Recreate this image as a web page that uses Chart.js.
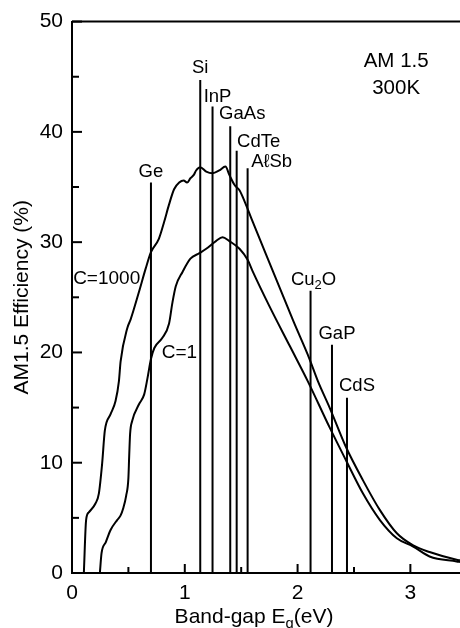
<!DOCTYPE html>
<html lang="en">
<head>
<meta charset="UTF-8">
<title>AM1.5 efficiency vs band gap</title>
<script src="https://cdn.jsdelivr.net/npm/chart.js"></script>
<style>
  html, body { margin: 0; padding: 0; background: #fff; }
</style>
</head>
<body>
<canvas id="chart" width="460" height="628"></canvas>
<script>
// efficiency curve, concentration C=1000
const conc1000X = [0.105, 0.125, 0.149, 0.208, 0.238, 0.267, 0.291, 0.342, 0.386, 0.416, 0.431, 0.49, 0.52, 0.594, 0.653, 0.70, 0.77, 0.816, 0.86, 0.905, 0.95, 0.99, 1.02, 1.05, 1.08, 1.10, 1.137, 1.19, 1.246, 1.306, 1.36, 1.395, 1.44, 1.485, 1.53, 1.6, 1.78, 1.96, 2.106, 2.18, 2.284, 2.43, 2.58, 2.73, 2.88, 3.025, 3.17, 3.41, 3.44];
const conc1000Y = [0, 4.8, 5.5, 6.3, 7.2, 9.9, 12.9, 14.4, 15.6, 17.4, 19.2, 22.2, 23.0, 25.5, 27.6, 29.1, 30.3, 31.8, 33.4, 34.8, 35.4, 35.6, 35.4, 35.8, 36.1, 36.5, 36.8, 36.4, 36.25, 36.5, 36.85, 36.1, 35.2, 34.7, 33.7, 31.9, 27.4, 22.9, 19.4, 17.4, 15.0, 11.4, 8.4, 5.7, 3.6, 2.5, 1.9, 1.2, 1.15];

// efficiency curve, concentration C=1
const conc1X = [0.247, 0.262, 0.30, 0.342, 0.40, 0.43, 0.455, 0.48, 0.50, 0.507, 0.515, 0.534, 0.594, 0.64, 0.668, 0.70, 0.73, 0.80, 0.86, 0.89, 0.92, 0.98, 1.05, 1.13, 1.19, 1.276, 1.335, 1.395, 1.485, 1.557, 1.6, 1.75, 1.93, 2.09, 2.284, 2.43, 2.58, 2.73, 2.88, 3.025, 3.17, 3.41, 3.44];
const conc1Y = [0, 1.8, 2.8, 3.9, 4.8, 5.2, 5.9, 7.0, 8.6, 10.6, 12.6, 13.8, 15.3, 16.2, 17.6, 19.4, 20.4, 21.3, 22.6, 24.5, 26.0, 27.3, 28.5, 29.0, 29.4, 30.1, 30.45, 30.1, 29.4, 28.4, 27.4, 24.2, 20.6, 17.4, 13.2, 10.2, 7.2, 4.8, 3.15, 2.4, 1.5, 1.05, 1.0];

// semiconductor band gaps (eV) and marker heights (%)
const materials = ['Ge', 'Si', 'InP', 'GaAs', 'CdTe', 'A\u2113Sb', 'Cu2O', 'GaP', 'CdS'];
const bandGaps = [0.70, 1.137, 1.246, 1.403, 1.46, 1.557, 2.115, 2.305, 2.438];
const lineTops = [35.4, 44.7, 42.3, 40.5, 38.3, 36.7, 25.6, 20.7, 15.9];

const yTickLabels = [0, 10, 20, 30, 40, 50];
const xTickLabels = [0, 1, 2, 3];

const FONT = '"Liberation Sans", Arial, Helvetica, sans-serif';

// label placement for the material names (pixels from line top)
const labelDx = [0, 0, 5, 12, 22, 24, 3, 5, 10];
const labelGap = [12, 13, 11, 13, 10, 7, 12, 12, 13];

function richParts(text) {
    // digits after letters become subscripts (Cu2O)
    let parts = [];
    let m = text.match(/^([A-Za-z]+)(\d)([A-Za-z]*)$/);
    if (m) {
        parts.push({ t: m[1] }, { t: m[2], sub: true }, { t: m[3] });
    } else {
        parts.push({ t: text });
    }
    return parts;
}

function drawRich(ctx, parts, x, y, size, align) {
    let widths = parts.map(p => {
        ctx.font = (p.sub ? size * 0.7 : size) + 'px ' + FONT;
        return ctx.measureText(p.t).width;
    });
    let total = widths.reduce((a, b) => a + b, 0);
    let cx = align === 'center' ? x - total / 2 : (align === 'right' ? x - total : x);
    ctx.textAlign = 'left';
    ctx.textBaseline = 'alphabetic';
    parts.forEach((p, i) => {
        ctx.font = (p.sub ? size * 0.7 : size) + 'px ' + FONT;
        ctx.fillText(p.t, cx, p.sub ? y + size * 0.22 : y);
        cx += widths[i];
    });
}

const decor = {
    id: 'decor',
    afterDraw(chart) {
        let ctx = chart.ctx;
        let xs = chart.scales.x, ys = chart.scales.y;
        let area = chart.chartArea;
        ctx.save();
        ctx.strokeStyle = '#000';
        ctx.fillStyle = '#000';

        // top frame line
        ctx.lineWidth = 2;
        ctx.beginPath();
        ctx.moveTo(area.left, area.top);
        ctx.lineTo(area.right, area.top);
        ctx.stroke();

        // inward ticks
        ctx.lineWidth = 2;
        ys.ticks.forEach(t => {
            if (t.value % 5 !== 0) return;
            let py = ys.getPixelForValue(t.value);
            let len = t.value % 10 === 0 ? 10 : 7;
            ctx.beginPath();
            ctx.moveTo(area.left, py);
            ctx.lineTo(area.left + len, py);
            ctx.stroke();
        });
        xs.ticks.forEach(t => {
            if (Math.abs(t.value * 2 - Math.round(t.value * 2)) > 1e-6) return;
            let px = xs.getPixelForValue(t.value);
            let len = Number.isInteger(t.value) ? 9 : 6;
            ctx.beginPath();
            ctx.moveTo(px, area.bottom);
            ctx.lineTo(px, area.bottom - len);
            ctx.stroke();
        });

        // material names above their lines
        materials.forEach((m, i) => {
            let px = xs.getPixelForValue(bandGaps[i]) + labelDx[i];
            let py = ys.getPixelForValue(lineTops[i]) - labelGap[i] + 6;
            drawRich(ctx, richParts(m), px, py, 18.5, 'center');
        });

        // curve labels
        drawRich(ctx, [{ t: 'C=1000' }], xs.getPixelForValue(0.01), ys.getPixelForValue(26.8) + 7, 19, 'left');
        drawRich(ctx, [{ t: 'C=1' }], xs.getPixelForValue(0.796), ys.getPixelForValue(20.1) + 7, 19, 'left');

        // conditions
        drawRich(ctx, [{ t: 'AM 1.5' }], xs.getPixelForValue(2.874), ys.getPixelForValue(46.5) + 7, 20.5, 'center');
        drawRich(ctx, [{ t: '300K' }], xs.getPixelForValue(2.874), ys.getPixelForValue(44.1) + 7, 20.5, 'center');

        // x axis title with subscript
        drawRich(ctx, [{ t: 'Band-gap E' }, { t: 'g', sub: true }, { t: '(eV)' }], 254, 623, 21, 'center');
        ctx.restore();
    }
};

let datasets = [
    {
        label: 'C=1000',
        data: conc1000X.map((x, i) => ({ x: x, y: conc1000Y[i] })),
        borderColor: '#000', borderWidth: 2, pointRadius: 0,
        cubicInterpolationMode: 'monotone'
    },
    {
        label: 'C=1',
        data: conc1X.map((x, i) => ({ x: x, y: conc1Y[i] })),
        borderColor: '#000', borderWidth: 2, pointRadius: 0,
        cubicInterpolationMode: 'monotone'
    }
];
materials.forEach((m, i) => {
    datasets.push({
        label: m,
        data: [{ x: bandGaps[i], y: 0 }, { x: bandGaps[i], y: lineTops[i] }],
        borderColor: '#000', borderWidth: 2, pointRadius: 0
    });
});

new Chart(document.getElementById('chart').getContext('2d'), {
    type: 'line',
    data: { datasets: datasets },
    options: {
        responsive: false,
        animation: false,
        layout: { padding: { top: 17, right: 0, bottom: 0, left: 0 } },
        plugins: { legend: { display: false }, tooltip: { enabled: false } },
        scales: {
            x: {
                type: 'linear',
                min: 0, max: 3.44,
                afterFit: s => { s.height = 55; },
                grid: { display: false, drawTicks: false },
                border: { display: true, color: '#000', width: 2 },
                ticks: {
                    stepSize: 0.5, includeBounds: false, autoSkip: false, maxRotation: 0,
                    padding: 8, color: '#000',
                    font: { family: FONT, size: 21 },
                    callback: v => xTickLabels.includes(v) ? String(v) : ''
                }
            },
            y: {
                min: 0, max: 50,
                afterFit: s => { s.width = 72; },
                grid: { display: false, drawTicks: false },
                border: { display: true, color: '#000', width: 2 },
                ticks: {
                    stepSize: 5, autoSkip: false, padding: 9, color: '#000',
                    font: { family: FONT, size: 21 },
                    callback: v => yTickLabels.includes(v) ? String(v) : ''
                },
                title: {
                    display: true, text: 'AM1.5 Efficiency (%)', color: '#000',
                    font: { family: FONT, size: 21 },
                    padding: { top: 10, bottom: 0 }
                }
            }
        }
    },
    plugins: [decor]
});
</script>
</body>
</html>
